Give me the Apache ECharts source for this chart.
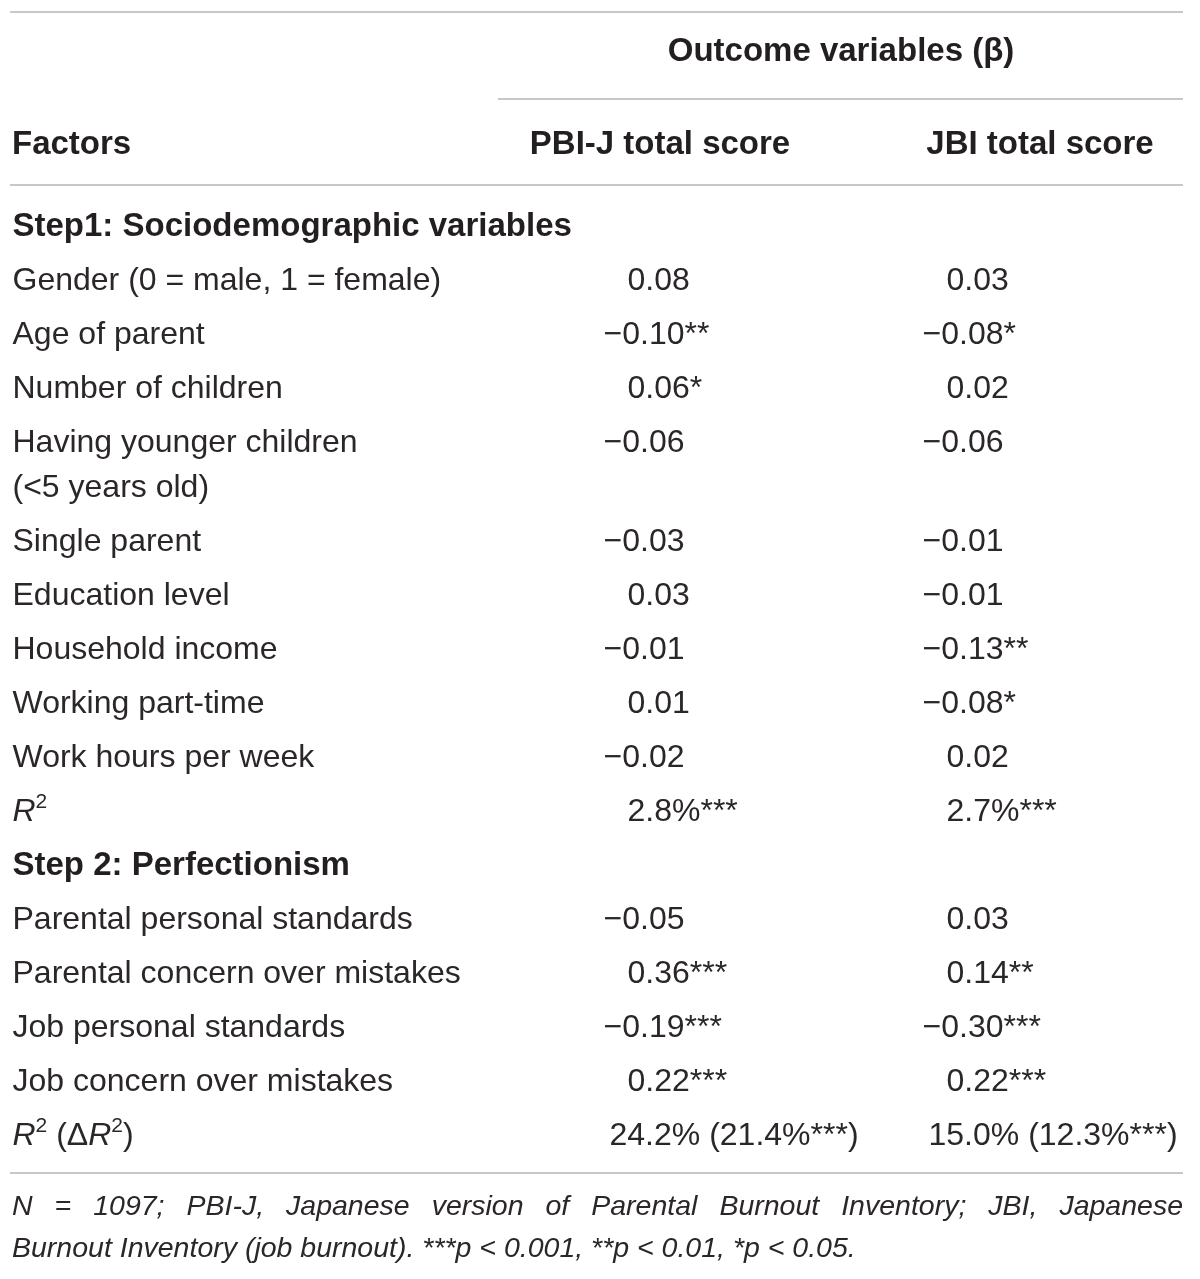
<!DOCTYPE html>
<html><head><meta charset="utf-8">
<script src="https://cdn.jsdelivr.net/npm/echarts@6/dist/echarts.min.js"></script>
<style>html,body{margin:0;padding:0;background:#fff}#main{width:1200px;height:1279px}</style>
</head><body><div id="main"></div>
<script>
// ---------- data ----------
const spanHeader = 'Outcome variables (β)';
const columnHeaders = ['Factors', 'PBI-J total score', 'JBI total score'];
const stepTitles = ['Step1: Sociodemographic variables', 'Step 2: Perfectionism'];

const step1Factors = ['Gender (0 = male, 1 = female)', 'Age of parent', 'Number of children',
  'Having younger children\n(<5 years old)', 'Single parent', 'Education level',
  'Household income', 'Working part-time', 'Work hours per week'];
const step1PBI      = [0.08, -0.10, 0.06, -0.06, -0.03, 0.03, -0.01, 0.01, -0.02];
const step1PBIStars = [0, 2, 1, 0, 0, 0, 0, 0, 0];
const step1JBI      = [0.03, -0.08, 0.02, -0.06, -0.01, -0.01, -0.13, -0.08, 0.02];
const step1JBIStars = [0, 1, 0, 0, 0, 0, 2, 1, 0];
const step1R2      = [2.8, 2.7];
const step1R2Stars = [3, 3];

const step2Factors = ['Parental personal standards', 'Parental concern over mistakes',
  'Job personal standards', 'Job concern over mistakes'];
const step2PBI      = [-0.05, 0.36, -0.19, 0.22];
const step2PBIStars = [0, 3, 3, 3];
const step2JBI      = [0.03, 0.14, -0.30, 0.22];
const step2JBIStars = [0, 2, 3, 3];
const step2R2       = [24.2, 15.0];
const step2DeltaR2  = [21.4, 12.3];
const step2DeltaStars = [3, 3];

const footnoteLines = [
  'N = 1097; PBI-J, Japanese version of Parental Burnout Inventory; JBI, Japanese',
  'Burnout Inventory (job burnout). ***p < 0.001, **p < 0.01, *p < 0.05.'
];

// ---------- layout / style ----------
const FONT = "'Liberation Sans', Arial, Helvetica, sans-serif";
const INK = '#231f20';
const BODY = '#2b2728';
const RULE = '#c8c8c8';
const SIZE = 32, BSIZE = 33, FSIZE = 28.5;
const colX = [12, 627, 946];
const NEG_SHIFT = -24, WIDE_SHIFT = -18;
const WRAP_STEP = 0.83;

const stars = n => '*'.repeat(n);
const fmtBeta = (v, s) => (v < 0 ? '−' : '') + Math.abs(v).toFixed(2) + stars(s);
const R2 = '{it|R}{sup|2}';

// build rows
const rows = [];
rows.push({ factor: ['{b|' + stepTitles[0] + '}'] });
step1Factors.forEach((f, i) => rows.push({
  factor: f.split('\n').map(t => '{n|' + t + '}'),
  cells: [fmtBeta(step1PBI[i], step1PBIStars[i]), fmtBeta(step1JBI[i], step1JBIStars[i])]
}));
rows.push({ factor: [R2], cells: step1R2.map((v, k) => v.toFixed(1) + '%' + stars(step1R2Stars[k])) });
rows.push({ factor: ['{b|' + stepTitles[1] + '}'] });
step2Factors.forEach((f, i) => rows.push({
  factor: ['{n|' + f + '}'],
  cells: [fmtBeta(step2PBI[i], step2PBIStars[i]), fmtBeta(step2JBI[i], step2JBIStars[i])]
}));
rows.push({ factor: [R2 + '{n| (Δ}' + R2 + '{n|)}'], wide: true,
  cells: step2R2.map((v, k) => v.toFixed(1) + '% (' + step2DeltaR2[k].toFixed(1) + '%' + stars(step2DeltaStars[k]) + ')') });

let yCursor = 0;
const factorData = [], valueData = [];
rows.forEach(r => {
  r.factor.forEach((t, j) => factorData.push({ name: t, value: [colX[0], yCursor + j * WRAP_STEP] }));
  if (r.cells) r.cells.forEach((c, k) => {
    const shift = c.startsWith('−') ? NEG_SHIFT : (r.wide ? WIDE_SHIFT : 0);
    valueData.push({ name: '{n|' + c + '}', value: [colX[k + 1] + shift, yCursor] });
  });
  yCursor += 1 + WRAP_STEP * (r.factor.length - 1);
});

const RICH = {
  n:   { fontFamily: FONT, fontSize: SIZE, color: BODY, lineHeight: 40 },
  b:   { fontFamily: FONT, fontSize: BSIZE, fontWeight: 'bold', color: INK, lineHeight: 40 },
  it:  { fontFamily: FONT, fontSize: SIZE, fontStyle: 'italic', color: BODY, lineHeight: 40 },
  sup: { fontFamily: FONT, fontSize: 21, color: BODY, lineHeight: 26, verticalAlign: 'top' }
};

function textSeries(data) {
  return {
    type: 'scatter', symbolSize: 1, silent: true, animation: false,
    itemStyle: { color: 'rgba(0,0,0,0)', opacity: 1 },
    label: { show: true, position: 'right', distance: 0, formatter: p => p.name,
      fontFamily: FONT, fontSize: SIZE, color: BODY, opacity: 1, rich: RICH },
    emphasis: { disabled: true },
    data
  };
}

// footnote: first line justified to the rule width
const ctx = document.createElement('canvas').getContext('2d');
ctx.font = 'italic ' + FSIZE + 'px ' + FONT;
const FOOT_RICH = {
  i: { fontFamily: FONT, fontSize: FSIZE, fontStyle: 'italic', color: BODY },
  g: { fontFamily: FONT, fontSize: FSIZE, color: BODY }
};
(function () {
  const words = footnoteLines[0].split(' ');
  const total = words.reduce((s, w) => s + ctx.measureText(w).width, 0);
  FOOT_RICH.g.width = (1171 - total) / (words.length - 1);
})();

const hline = (x1, x2, y) => ({ type: 'line', silent: true,
  shape: { x1, y1: y, x2, y2: y }, style: { stroke: RULE, lineWidth: 2 } });
const htext = (text, x, y, align) => ({ type: 'text', silent: true, x, y,
  style: { text, fill: INK, fontFamily: FONT, fontSize: BSIZE, fontWeight: 'bold',
    textAlign: align, textVerticalAlign: 'middle', align, verticalAlign: 'middle' } });

const chart = echarts.init(document.getElementById('main'), null, { renderer: 'canvas' });
chart.setOption({
  backgroundColor: '#fff',
  animation: false,
  grid: { left: 0, right: 0, top: 173, bottom: 134 },
  xAxis: { type: 'value', min: 0, max: 1200, show: false },
  yAxis: { type: 'value', min: -1, max: 17, inverse: true, show: false },
  series: [textSeries(factorData), textSeries(valueData)],
  graphic: [
    hline(10, 1183, 12),
    htext(spanHeader, 841, 52, 'center'),
    hline(498, 1183, 99),
    htext(columnHeaders[0], 12, 145, 'left'),
    htext(columnHeaders[1], 660, 145, 'center'),
    htext(columnHeaders[2], 1040, 145, 'center'),
    hline(10, 1183, 185),
    hline(10, 1183, 1173),
    { type: 'text', silent: true, x: 12, y: 1207,
      style: { text: footnoteLines[0].split(' ').map(w => '{i|' + w + '}').join('{g| }'),
        rich: FOOT_RICH, fill: BODY, fontFamily: FONT, fontSize: FSIZE, fontStyle: 'italic',
        textVerticalAlign: 'middle', verticalAlign: 'middle' } },
    { type: 'text', silent: true, x: 12, y: 1249,
      style: { text: footnoteLines[1], fill: BODY, fontFamily: FONT, fontSize: FSIZE, fontStyle: 'italic',
        textVerticalAlign: 'middle', verticalAlign: 'middle' } }
  ]
});
</script>
</body></html>
